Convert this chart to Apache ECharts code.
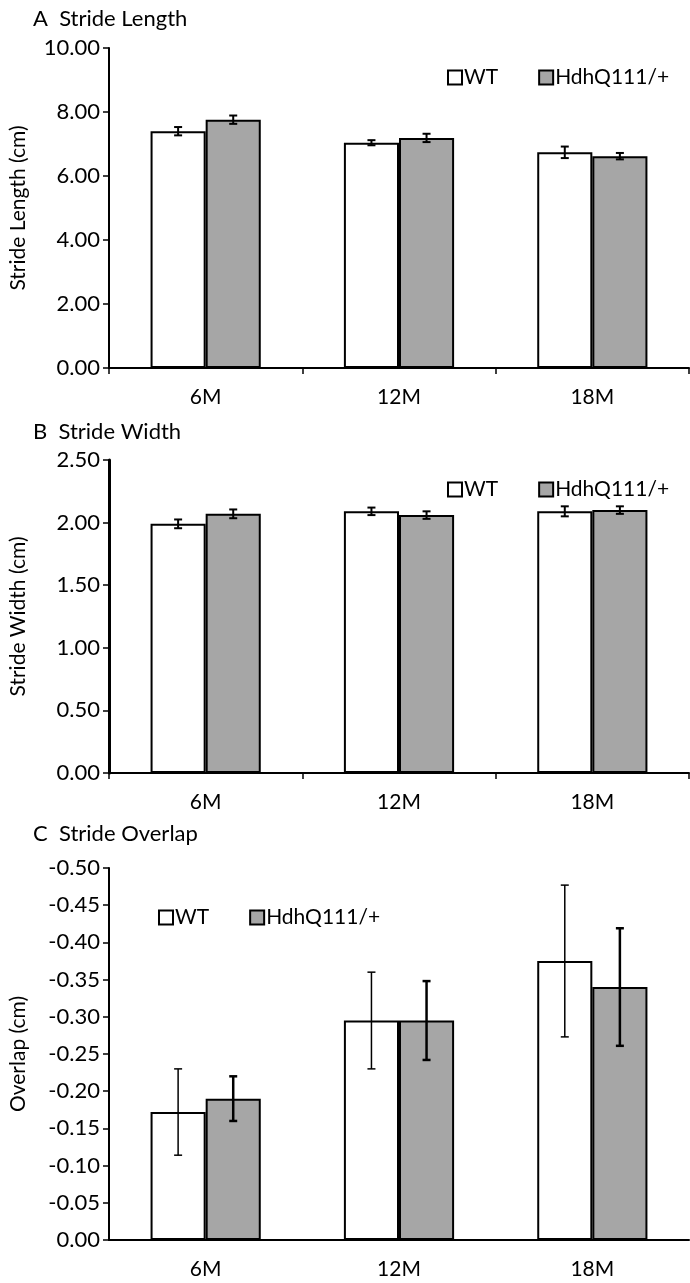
<!DOCTYPE html>
<html>
<head>
<meta charset="utf-8">
<script src="https://cdn.jsdelivr.net/npm/echarts@6/dist/echarts.min.js"></script>
<style>
html,body{margin:0;padding:0;background:#fff;}
#chart{width:690px;height:1283px;}
</style>
</head>
<body>
<div id="chart"></div>
<script>
// ---- data ----
const categories = ['6M', '12M', '18M'];
const seriesNames = ['WT', 'HdhQ111/+'];

const lengthWT = [7.40, 7.04, 6.74];
const lengthWTErr = [0.13, 0.08, 0.18];
const lengthHdh = [7.76, 7.19, 6.62];
const lengthHdhErr = [0.13, 0.13, 0.10];

const widthWT = [1.99, 2.09, 2.09];
const widthWTErr = [0.035, 0.03, 0.04];
const widthHdh = [2.07, 2.06, 2.10];
const widthHdhErr = [0.035, 0.03, 0.03];

const overlapWT = [-0.172, -0.295, -0.375];
const overlapWTErr = [0.058, 0.065, 0.102];
const overlapHdh = [-0.190, -0.295, -0.340];
const overlapHdhErr = [0.030, 0.053, 0.079];

const panelTitles = ['A  Stride Length', 'B  Stride Width', 'C  Stride Overlap'];
const axisNames = ['Stride Length (cm)', 'Stride Width (cm)', 'Overlap (cm)'];

// ---- style ----
const FONT = 'Lato, "Open Sans", sans-serif';
const GRAY = '#a6a6a6';
const BAND_FRAC = 0.285;

const grids = [
  {left: 101, width: 588, top: 48, height: 320},
  {left: 101, width: 588, top: 460, height: 313},
  {left: 101, width: 588, top: 868, height: 372}
];
const titleY = [17, 430, 832];
const legendPos = [{left: 442, top: 62}, {left: 442, top: 474}, {left: 153, top: 902}];

function fmt(v) {
  if (Math.abs(v) < 1e-9) return '0.00';
  return v.toFixed(2);
}

function errSeries(gi, means, errs, sign, lw, cap) {
  return {
    type: 'custom',
    xAxisIndex: gi, yAxisIndex: gi,
    z: 10,
    silent: true,
    data: means.map((m, i) => [i, m, errs[i]]),
    encode: {x: 0, y: 1},
    renderItem: function (params, api) {
      const idx = api.value(0), m = api.value(1), e = api.value(2);
      const c = api.coord([idx, m]);
      const band = api.size([1, 0])[0];
      const x = c[0] + sign * band * BAND_FRAC / 2;
      const yTop = api.coord([idx, m + e])[1];
      const yBot = api.coord([idx, m - e])[1];
      const st = {stroke: '#000', lineWidth: lw};
      return {
        type: 'group',
        children: [
          {type: 'line', shape: {x1: x, y1: yTop, x2: x, y2: yBot}, style: st},
          {type: 'line', shape: {x1: x - cap, y1: yTop, x2: x + cap, y2: yTop}, style: st},
          {type: 'line', shape: {x1: x - cap, y1: yBot, x2: x + cap, y2: yBot}, style: st}
        ]
      };
    }
  };
}

const panels = [
  {wt: lengthWT, wtE: lengthWTErr, hdh: lengthHdh, hdhE: lengthHdhErr, min: 0, max: 10, interval: 2, inverse: false, ticks: true, lwWT: 2, lwH: 2, ylw: 2},
  {wt: widthWT, wtE: widthWTErr, hdh: widthHdh, hdhE: widthHdhErr, min: 0, max: 2.5, interval: 0.5, inverse: false, ticks: true, lwWT: 2, lwH: 2, ylw: 3},
  {wt: overlapWT, wtE: overlapWTErr, hdh: overlapHdh, hdhE: overlapHdhErr, min: -0.5, max: 0, interval: 0.05, inverse: true, ticks: false, lwWT: 1.5, lwH: 2.5, ylw: 2}
];

const option = {
  backgroundColor: '#fff',
  animation: false,
  textStyle: {fontFamily: FONT, color: '#000'},
  title: panelTitles.map((t, i) => ({
    text: t, left: 28, top: titleY[i] - 14,
    textStyle: {fontFamily: FONT, fontSize: 22, fontWeight: 'normal', color: '#000'}
  })),
  legend: legendPos.map((p, i) => ({
    data: seriesNames,
    left: p.left, top: p.top,
    orient: 'horizontal',
    itemWidth: 14, itemHeight: 14, itemGap: 40,
    icon: 'rect',
    selectedMode: false,
    textStyle: {fontFamily: FONT, fontSize: 21, color: '#000', padding: [0, 0, 0, -3]}
  })),
  grid: grids,
  xAxis: grids.map((g, i) => ({
    type: 'category', gridIndex: i, data: categories,
    axisLine: {lineStyle: {color: '#000', width: 2}},
    axisTick: {show: panels[i].ticks, length: 6, lineStyle: {color: '#000', width: 1.5}},
    axisLabel: {fontFamily: FONT, fontSize: 21, color: '#000', margin: 19}
  })),
  yAxis: grids.map((g, i) => ({
    type: 'value', gridIndex: i,
    min: panels[i].min, max: panels[i].max, interval: panels[i].interval,
    inverse: panels[i].inverse,
    name: axisNames[i], nameLocation: 'middle', nameGap: 80, nameRotate: 90,
    nameTextStyle: {fontFamily: FONT, fontSize: 21, color: '#000'},
    axisLine: {show: true, lineStyle: {color: '#000', width: panels[i].ylw}},
    axisTick: {show: true, length: 6, lineStyle: {color: '#000', width: 1.5}},
    splitLine: {show: false},
    axisLabel: {fontFamily: FONT, fontSize: 22, color: '#000', margin: 9, formatter: fmt}
  })),
  series: []
};

panels.forEach((p, i) => {
  option.series.push({
    name: seriesNames[0], type: 'bar', xAxisIndex: i, yAxisIndex: i,
    data: p.wt, barWidth: (BAND_FRAC * 100) + '%', barGap: '0%',
    itemStyle: {color: '#fff', borderColor: '#000', borderWidth: 2}
  });
  option.series.push({
    name: seriesNames[1], type: 'bar', xAxisIndex: i, yAxisIndex: i,
    data: p.hdh, barWidth: (BAND_FRAC * 100) + '%', barGap: '0%',
    itemStyle: {color: GRAY, borderColor: '#000', borderWidth: 2}
  });
  option.series.push(errSeries(i, p.wt, p.wtE, -1, p.lwWT, 4));
  option.series.push(errSeries(i, p.hdh, p.hdhE, 1, p.lwH, 4));
});

const chart = echarts.init(document.getElementById('chart'), null, {renderer: 'canvas'});
chart.setOption(option);
</script>
</body>
</html>
